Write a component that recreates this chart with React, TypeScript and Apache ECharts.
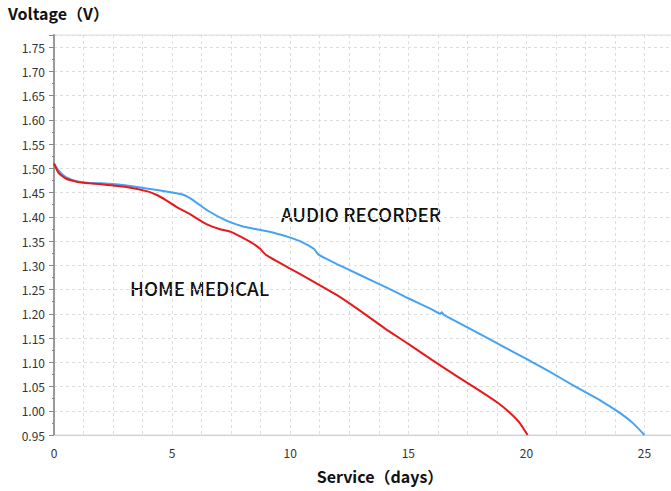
import React, { useEffect, useRef } from "react";
import * as echarts from "echarts";

const audioDays = [0, 0.2, 0.5, 1, 1.5, 2, 3, 4, 5, 5.5, 5.9, 6.5, 7.3, 8, 8.4, 9.3, 10, 10.5, 11, 11.2, 12, 13, 14, 15, 16, 16.35, 16.42, 16.5, 17, 18, 19, 20, 21, 22, 23, 23.5, 24, 24.5, 25];
const audioVolts = [1.51, 1.495, 1.482, 1.473, 1.47, 1.469, 1.465, 1.458, 1.45, 1.445, 1.434, 1.413, 1.392, 1.38, 1.376, 1.367, 1.357, 1.348, 1.334, 1.322, 1.302, 1.279, 1.256, 1.232, 1.209, 1.2, 1.203, 1.198, 1.185, 1.159, 1.133, 1.107, 1.08, 1.052, 1.025, 1.01, 0.994, 0.975, 0.95];

const medicalDays = [0, 0.2, 0.5, 1, 1.5, 2, 3, 4, 4.4, 4.75, 5.2, 5.74, 6.45, 7, 7.5, 7.86, 8.42, 8.7, 8.99, 10, 11, 12, 13, 14, 15, 16, 17, 18, 18.8, 19.3, 19.7, 20.05];
const medicalVolts = [1.51, 1.49, 1.479, 1.472, 1.469, 1.467, 1.462, 1.452, 1.444, 1.434, 1.42, 1.406, 1.385, 1.375, 1.369, 1.36, 1.345, 1.335, 1.321, 1.293, 1.266, 1.238, 1.205, 1.17, 1.138, 1.105, 1.073, 1.042, 1.016, 0.996, 0.976, 0.95];

const yTitle = "Voltage（V）";
const xTitle = "Service（days）";
const audioName = "AUDIO RECORDER";
const medicalName = "HOME MEDICAL";

const zip = (xs: number[], ys: number[]) => xs.map((x, i) => [x, ys[i]]);

export default function App() {
  const ref = useRef<HTMLDivElement>(null);
  useEffect(() => {
    const chart = echarts.init(ref.current!, null, { renderer: "svg" });
    const cjk = "'Noto Sans CJK SC', 'Noto Sans', sans-serif";
    chart.setOption({
      animation: false,
      backgroundColor: "#ffffff",
      grid: {
        left: 54,
        top: 35,
        width: 620,
        height: 400,
        outerBoundsMode: "none",
        containLabel: false,
        show: true,
        borderColor: "#dcdcdc",
        borderWidth: 1,
      },
      xAxis: {
        type: "value",
        min: 0,
        max: 26.25,
        interval: 1.25,
        axisLine: { lineStyle: { color: "#d0d0d0", width: 1 } },
        axisTick: { show: false },
        axisLabel: {
          color: "#333",
          fontSize: 12,
          fontFamily: cjk,
          margin: 11,
          formatter: (v: number) => (Math.abs(v / 5 - Math.round(v / 5)) < 1e-6 ? String(Math.round(v)) : ""),
        },
        splitLine: { show: true, lineStyle: { color: "#dedede", type: [3, 3], width: 1 } },
      },
      yAxis: {
        type: "value",
        min: 0.95,
        max: 1.775,
        interval: 0.05,
        axisLine: { show: true, lineStyle: { color: "#999", width: 2 } },
        axisTick: { show: true, length: 5, lineStyle: { color: "#888" } },
        minorTick: { show: true, splitNumber: 2, length: 2, lineStyle: { color: "#888" } },
        axisLabel: {
          color: "#333",
          fontSize: 12,
          fontFamily: cjk,
          margin: 9,
          formatter: (v: number) => {
            const k = v / 0.05;
            return Math.abs(k - Math.round(k)) < 1e-6 ? v.toFixed(2) : "";
          },
        },
        splitLine: { show: true, lineStyle: { color: "#dedede", type: [3, 3], width: 1 } },
      },
      series: [
        {
          name: audioName,
          type: "line",
          data: zip(audioDays, audioVolts),
          showSymbol: false,
          smooth: 0.15,
          lineStyle: { color: "#45a3f2", width: 2 },
          itemStyle: { color: "#45a3f2" },
          z: 3,
        },
        {
          name: medicalName,
          type: "line",
          data: zip(medicalDays, medicalVolts),
          showSymbol: false,
          smooth: 0.15,
          lineStyle: { color: "#e8191c", width: 2 },
          itemStyle: { color: "#e8191c" },
          z: 4,
        },
      ],
      graphic: [
        {
          type: "text",
          left: 8,
          top: 5,
          style: { text: yTitle, fontSize: 16, fontWeight: "bold", fontFamily: cjk, fill: "#111" },
        },
        {
          type: "text",
          x: 380,
          y: 476,
          style: { text: xTitle, fontSize: 16, fontWeight: "bold", fontFamily: cjk, fill: "#111", align: "center", verticalAlign: "middle" },
        },
        {
          type: "text",
          x: 281,
          y: 213,
          style: { text: audioName, fontSize: 18.7, fontWeight: 500, fontFamily: cjk, fill: "#111", align: "left", verticalAlign: "middle" },
        },
        {
          type: "text",
          x: 130,
          y: 287,
          style: { text: medicalName, fontSize: 18.8, fontWeight: 500, fontFamily: cjk, fill: "#111", align: "left", verticalAlign: "middle" },
        },
      ],
    });
    return () => chart.dispose();
  }, []);
  return <div ref={ref} style={{ position: "fixed", left: 0, top: 0, width: 671, height: 491 }} />;
}
